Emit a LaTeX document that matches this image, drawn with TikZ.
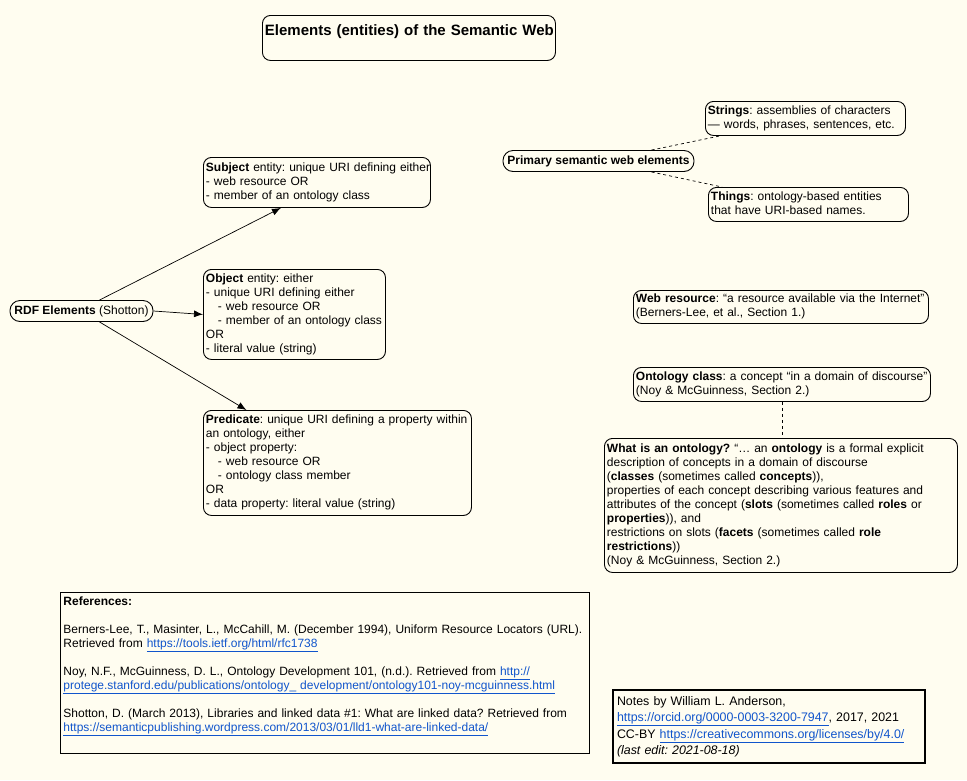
\documentclass[tikz,border=0pt]{standalone}
\usepackage{fontspec}
\setmainfont{Liberation Sans}
\usetikzlibrary{arrows.meta}
\definecolor{bg}{RGB}{255,253,240}
\definecolor{lnk}{RGB}{17,85,204}
\newcommand{\lk}[1]{\textcolor{lnk}{\underline{#1}}}
\newcommand{\ind}{\hspace*{12pt}}
\newcommand{\lines}[1]{\begin{tabular}{@{}l@{}}#1\end{tabular}}
\newcommand{\clines}[1]{\begin{tabular}{@{}c@{}}#1\end{tabular}}
\begin{document}
\begin{tikzpicture}[x=1pt,y=-1pt,
  every node/.style={font=\fontsize{12}{14}\selectfont\frenchspacing},
  rbox/.style={draw, rounded corners=8pt, line width=0.9pt, anchor=north west, align=left, inner xsep=2.5pt, inner ysep=0pt},
  pill/.style={draw, rounded corners=10pt, line width=0.9pt, inner xsep=3pt, inner ysep=0pt, minimum height=21pt},
  sqbox/.style={draw, anchor=north west, align=left, inner ysep=0pt},
  arr/.style={-{Latex[length=9pt,width=7pt]}, line width=0.7pt},
  dsh/.style={dash pattern=on 3pt off 3pt, line width=0.7pt}]
\fill[bg] (0,0) rectangle (967,780);
\useasboundingbox (0,0) rectangle (967,780);

\node[rbox, align=center, text width=288pt, minimum height=45pt, font=\fontsize{15}{18}\selectfont\bfseries\frenchspacing] (title) at (262,15)
  {\clines{Elements (entities) of the Semantic Web\\[-5pt] \mbox{}}};

\node[rbox, text width=222pt, minimum height=50pt] (subj) at (203,157)
  {\lines{\textbf{Subject} entity: unique URI defining either\\- web resource OR\\- member of an ontology class}};

\node[rbox, text width=177pt, minimum height=90pt] (obj) at (203,269)
  {\lines{\textbf{Object} entity: either\\- unique URI defining either\\\ind- web resource OR\\\ind- member of an ontology class\\OR\\- literal value (string)}};

\node[rbox, text width=263pt, minimum height=105pt] (pred) at (203,410)
  {\lines{\textbf{Predicate}: unique URI defining a property within\\an ontology, either\\- object property:\\\ind- web resource OR\\\ind- ontology class member\\OR\\- data property: literal value (string)}};

\node[pill, minimum width=143pt] (rdf) at (81.5,311) {\textbf{RDF Elements} (Shotton)};

\node[pill, minimum width=191pt] (prim) at (598.5,161) {\textbf{Primary semantic web elements}};

\node[rbox, text width=195pt, minimum height=34pt] (str) at (705,101)
  {\lines{\textbf{Strings}: assemblies of characters\\— words, phrases, sentences, etc.}};

\node[rbox, text width=195pt, minimum height=34pt] (thg) at (708,187)
  {\lines{\textbf{Things}: ontology-based entities\\that have URI-based names.}};

\node[rbox, text width=290pt, minimum height=33pt] (web) at (633,290)
  {\lines{\textbf{Web resource}: “a resource available via the Internet”\\(Berners-Lee, et al., Section 1.)}};

\node[rbox, text width=292pt, minimum height=34pt] (ont) at (633,367)
  {\lines{\textbf{Ontology class}: a concept “in a domain of discourse”\\(Noy \& McGuinness, Section 2.)}};

\node[rbox, text width=348pt, minimum height=134pt] (what) at (604,438)
  {\lines{\textbf{What is an ontology?} “… an \textbf{ontology} is a formal explicit\\
   description of concepts in a domain of discourse\\
   (\textbf{classes} (sometimes called \textbf{concepts})),\\
   properties of each concept describing various features and\\
   attributes of the concept (\textbf{slots} (sometimes called \textbf{roles} or\\
   \textbf{properties})), and\\
   restrictions on slots (\textbf{facets} (sometimes called \textbf{role}\\
   \textbf{restrictions}))\\
   (Noy \& McGuinness, Section 2.)}};

\node[sqbox, line width=0.9pt, inner xsep=3pt, text width=523pt, minimum height=161pt] (refs) at (60,592)
  {\lines{\textbf{References:}\\[14pt]
   Berners-Lee, T., Masinter, L., McCahill, M. (December 1994), Uniform Resource Locators (URL).\\
   Retrieved from \lk{https://tools.ietf.org/html/rfc1738}\\[14pt]
   Noy, N.F., McGuinness, D. L., Ontology Development 101, (n.d.). Retrieved from \lk{http://}\\
   \lk{protege.stanford.edu/publications/ontology\_ development/ontology101-noy-mcguinness.html}\\[14pt]
   Shotton, D. (March 2013), Libraries and linked data \#1: What are linked data? Retrieved from\\
   \lk{https://semanticpublishing.wordpress.com/2013/03/01/lld1-what-are-linked-data/}\\ \mbox{}}};

\node[sqbox, line width=2pt, inner xsep=4pt, text width=304pt, minimum height=73pt, font=\fontsize{12.4}{16.5}\selectfont\frenchspacing] (notes) at (612,689)
  {\lines{Notes by William L. Anderson,\\
   \lk{https://orcid.org/0000-0003-3200-7947}, 2017, 2021\\
   CC-BY \lk{https://creativecommons.org/licenses/by/4.0/}\\
   \textit{(last edit: 2021-08-18)}}};

\draw[arr] ([xshift=18pt]rdf.north) -- ([xshift=-36pt]subj.south);
\draw[arr] (rdf.east) -- (obj.west);
\draw[arr] ([xshift=18pt]rdf.south) -- ([xshift=-91pt]pred.north);
\draw[dsh] ([xshift=53pt]prim.north) -- ([xshift=15pt]str.south west);
\draw[dsh] ([xshift=53pt]prim.south) -- ([xshift=14pt]thg.north west);
\draw[dsh] (ont.south) -- (ont.south |- what.north);
\end{tikzpicture}
\end{document}
